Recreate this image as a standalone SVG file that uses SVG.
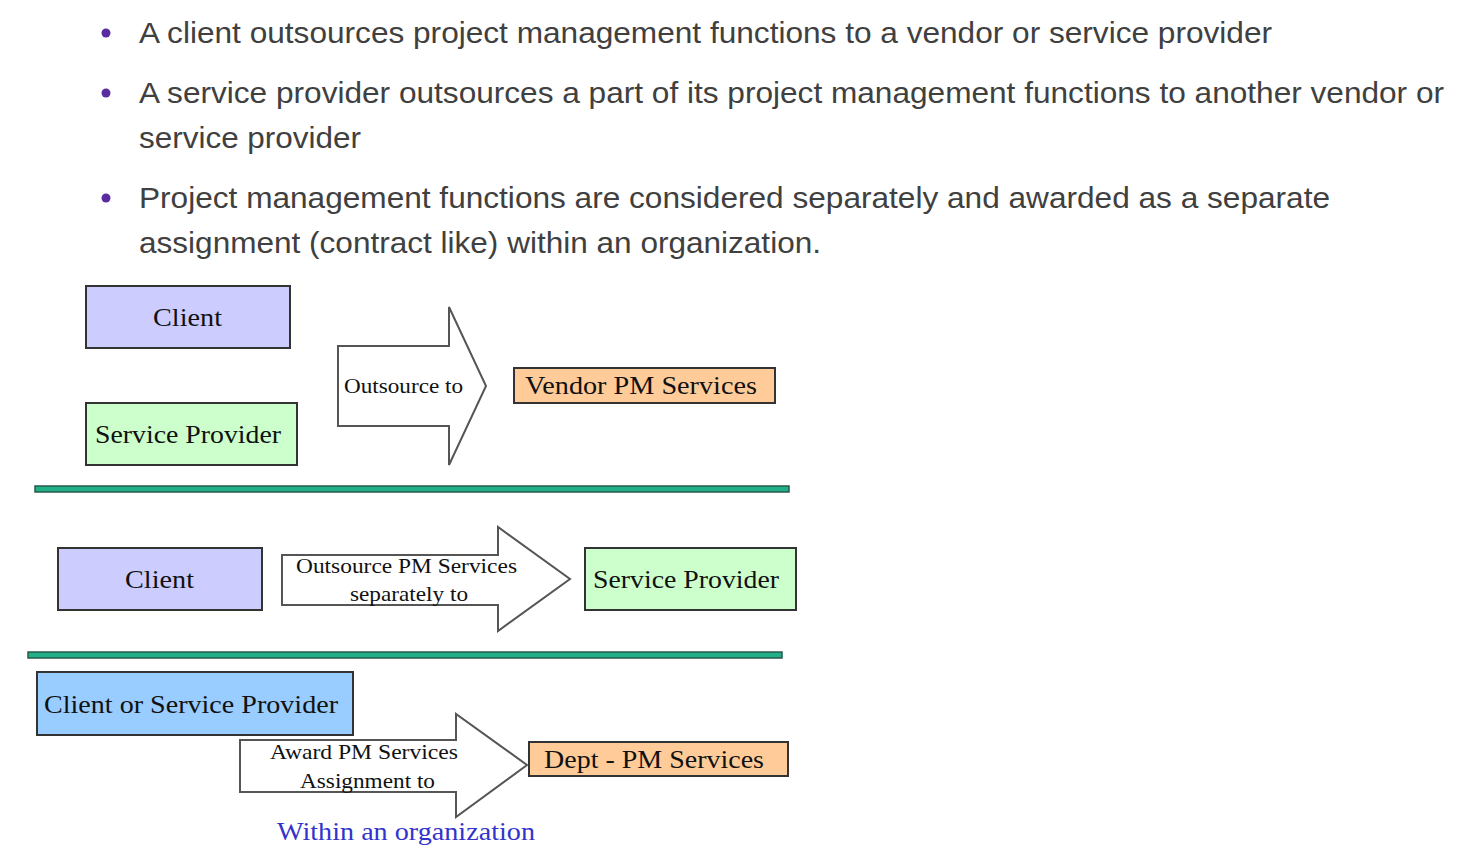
<svg xmlns="http://www.w3.org/2000/svg" width="1476" height="852" viewBox="0 0 1476 852">
<style>
.bt{font-family:"Liberation Sans",Arial,sans-serif;font-size:30px;fill:#404040}
.dot{fill:#5a2ca0}
.box{stroke:#333;stroke-width:2}
.lbl{font-family:"Liberation Serif","Times New Roman",serif;font-size:26px;fill:#111}
.al{font-family:"Liberation Serif","Times New Roman",serif;font-size:22px;fill:#111}
.arr{fill:#fff;stroke:#555;stroke-width:2}
.sep{fill:#1fb088;stroke:#2b5a4c;stroke-width:1.5}
.blue{fill:#ccccff}.green{fill:#ccffcc}.orange{fill:#ffcc99}.sky{fill:#99ccff}
</style>
<rect width="1476" height="852" fill="#fff"/>
<g id="bullets">
<circle class="dot" cx="106" cy="33" r="4.5"/>
<text class="bt" x="139" y="43" textLength="1133" lengthAdjust="spacingAndGlyphs">A client outsources project management functions to a vendor or service provider</text>
<circle class="dot" cx="106" cy="93" r="4.5"/>
<text class="bt" x="139" y="103" textLength="1305" lengthAdjust="spacingAndGlyphs">A service provider outsources a part of its project management functions to another vendor or</text>
<text class="bt" x="139" y="148" textLength="222" lengthAdjust="spacingAndGlyphs">service provider</text>
<circle class="dot" cx="106" cy="198" r="4.5"/>
<text class="bt" x="139" y="208" textLength="1191" lengthAdjust="spacingAndGlyphs">Project management functions are considered separately and awarded as a separate</text>
<text class="bt" x="139" y="253" textLength="682" lengthAdjust="spacingAndGlyphs">assignment (contract like) within an organization.</text>
</g>
<g id="connectors">
<polygon id="arrow1" class="arr" points="338,346 449,346 449,307 486,386 449,465 449,426 338,426"/>
<text class="al" x="344" y="393" textLength="119" lengthAdjust="spacingAndGlyphs">Outsource to</text>
<polygon id="arrow2" class="arr" points="282,555 498,555 498,527 570,579 498,631 498,605 282,605"/>
<text class="al" x="296" y="573" textLength="221" lengthAdjust="spacingAndGlyphs">Outsource PM Services</text>
<text class="al" x="350" y="601" textLength="118" lengthAdjust="spacingAndGlyphs">separately to</text>
<polygon id="arrow3" class="arr" points="240,740 456,740 456,714 527,765 456,817 456,792 240,792"/>
<text class="al" x="270" y="759" textLength="188" lengthAdjust="spacingAndGlyphs">Award PM Services</text>
<text class="al" x="300" y="788" textLength="135" lengthAdjust="spacingAndGlyphs">Assignment to</text>
</g>
<g id="client1"><rect class="box blue" x="86" y="286" width="204" height="62"/><text class="lbl" x="153" y="326" textLength="69" lengthAdjust="spacingAndGlyphs">Client</text></g>
<g id="sp1"><rect class="box green" x="86" y="403" width="211" height="62"/><text class="lbl" x="95" y="443" textLength="186" lengthAdjust="spacingAndGlyphs">Service Provider</text></g>
<g id="vendor"><rect class="box orange" x="514" y="368" width="261" height="35"/><text class="lbl" x="525" y="394" textLength="232" lengthAdjust="spacingAndGlyphs">Vendor PM Services</text></g>
<rect id="sep1" class="sep" x="35" y="486" width="754" height="6"/>
<g id="client2"><rect class="box blue" x="58" y="548" width="204" height="62"/><text class="lbl" x="125" y="588" textLength="69" lengthAdjust="spacingAndGlyphs">Client</text></g>
<g id="sp2"><rect class="box green" x="585" y="548" width="211" height="62"/><text class="lbl" x="593" y="588" textLength="186" lengthAdjust="spacingAndGlyphs">Service Provider</text></g>
<rect id="sep2" class="sep" x="28" y="652" width="754" height="6"/>
<g id="csp"><rect class="box sky" x="37" y="672" width="316" height="63"/><text class="lbl" x="44" y="713" textLength="294" lengthAdjust="spacingAndGlyphs">Client or Service Provider</text></g>
<g id="dept"><rect class="box orange" x="529" y="742" width="259" height="34"/><text class="lbl" x="544" y="768" textLength="220" lengthAdjust="spacingAndGlyphs">Dept - PM Services</text></g>
<g id="note"><text class="lbl" x="277" y="840" style="fill:#3333cc" textLength="258" lengthAdjust="spacingAndGlyphs">Within an organization</text></g>
</svg>
